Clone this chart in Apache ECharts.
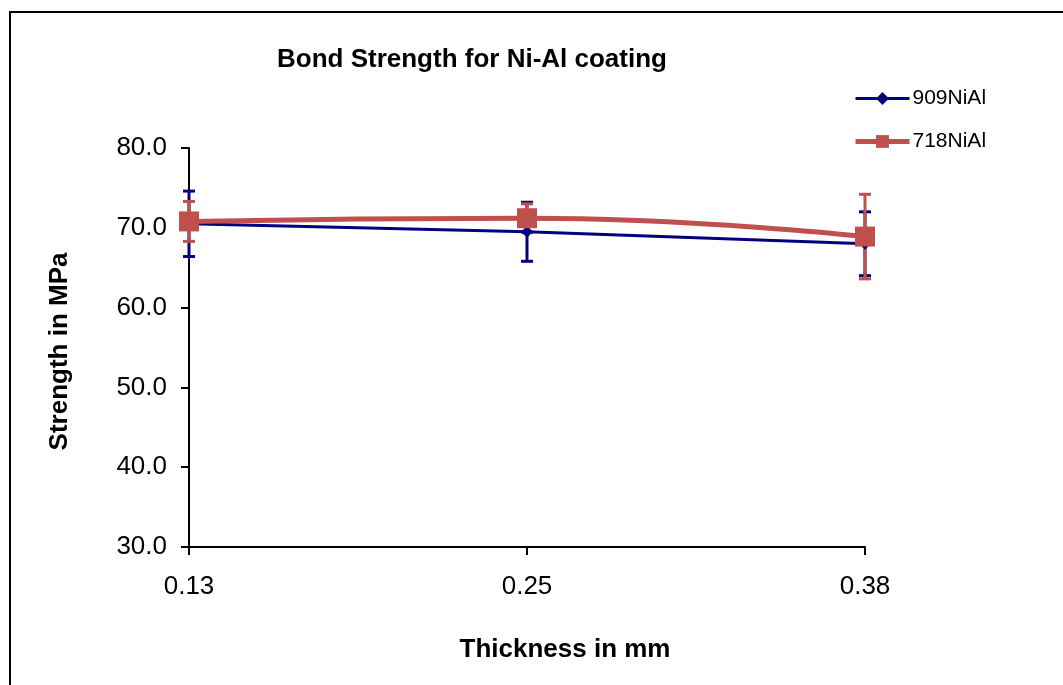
<!DOCTYPE html>
<html>
<head>
<meta charset="utf-8">
<script src="https://cdn.jsdelivr.net/npm/echarts@6/dist/echarts.min.js"></script>
<style>
  html, body { margin: 0; padding: 0; background: #fff; }
  #chart { width: 1063px; height: 685px; }
</style>
</head>
<body>
<div id="chart"></div>
<script>
// Coating thickness (mm) on the category axis
const thickness = ['0.13', '0.25', '0.38'];

// Mean bond strength (MPa) and standard deviation for each coating
const series909 = [70.5, 69.5, 68.0];
const err909 = [4.1, 3.7, 4.0];
const series718 = [70.8, 71.2, 68.9];
const err718 = [2.5, 1.8, 5.3];

const yTicks = { min: 30, max: 80, interval: 10 };

const FONT = 'Liberation Sans, Arial, sans-serif';
const NAVY = '#000080';
const BRICK = '#C0504D';

// Vertical whisker with flat caps at mean ± error
function errorBars(means, errs, color) {
  return {
    type: 'custom',
    name: 'err',
    silent: true,
    data: means.map((m, i) => [i, m - errs[i], m + errs[i]]),
    renderItem: function (params, api) {
      const x = api.value(0);
      const lo = api.coord([x, api.value(1)]);
      const hi = api.coord([x, api.value(2)]);
      const half = 6;
      const style = { stroke: color, lineWidth: 3 };
      return {
        type: 'group',
        children: [
          { type: 'line', shape: { x1: lo[0], y1: lo[1], x2: hi[0], y2: hi[1] }, style: style },
          { type: 'line', shape: { x1: hi[0] - half, y1: hi[1], x2: hi[0] + half, y2: hi[1] }, style: style },
          { type: 'line', shape: { x1: lo[0] - half, y1: lo[1], x2: lo[0] + half, y2: lo[1] }, style: style }
        ]
      };
    }
  };
}

const chart = echarts.init(document.getElementById('chart'));
chart.setOption({
  backgroundColor: '#fff',
  animation: false,
  graphic: [{
    type: 'rect',
    shape: { x: 10, y: 12, width: 1200, height: 800 },
    style: { fill: 'none', stroke: '#000', lineWidth: 2 },
    z: 0
  }],
  title: {
    text: 'Bond Strength for Ni-Al coating',
    left: 272,
    top: 42,
    textStyle: { fontFamily: FONT, fontSize: 26, fontWeight: 'bold', color: '#000' }
  },
  legend: {
    orient: 'vertical',
    left: 853,
    top: 88,
    padding: 0,
    itemWidth: 54,
    itemHeight: 16,
    itemGap: 22,
    data: [
      { name: '909NiAl', lineStyle: { width: 3 } },
      { name: '718NiAl', lineStyle: { width: 5 } }
    ],
    textStyle: { fontFamily: FONT, fontSize: 21, color: '#000', padding: [0, 0, 0, -2] }
  },
  grid: { left: 189, right: 198, top: 148, bottom: 138, containLabel: false },
  xAxis: {
    type: 'category',
    data: thickness,
    boundaryGap: false,
    name: 'Thickness in mm',
    nameLocation: 'middle',
    nameGap: 90,
    nameTextStyle: { fontFamily: FONT, fontSize: 26, fontWeight: 'bold', color: '#000', padding: [0, 0, 0, 76] },
    axisLine: { lineStyle: { color: '#000', width: 2 } },
    axisTick: { show: true, alignWithLabel: true, length: 8, lineStyle: { color: '#000', width: 2 } },
    axisLabel: { fontFamily: FONT, fontSize: 26, color: '#000', margin: 27 },
    splitLine: { show: false }
  },
  yAxis: {
    type: 'value',
    min: yTicks.min,
    max: yTicks.max,
    interval: yTicks.interval,
    name: 'Strength in MPa',
    nameLocation: 'middle',
    nameGap: 116,
    nameRotate: 90,
    nameTextStyle: { fontFamily: FONT, fontSize: 26, fontWeight: 'bold', color: '#000', padding: [0, 8, 0, 0] },
    axisLine: { show: true, lineStyle: { color: '#000', width: 2 } },
    axisTick: { show: true, length: 8, lineStyle: { color: '#000', width: 2 } },
    axisLabel: { fontFamily: FONT, fontSize: 26, color: '#000', margin: 22, formatter: v => v.toFixed(1) },
    splitLine: { show: false }
  },
  series: [
    errorBars(series909, err909, NAVY),
    {
      name: '909NiAl',
      type: 'line',
      data: series909,
      symbol: 'diamond',
      symbolSize: 12,
      lineStyle: { color: NAVY, width: 3 },
      itemStyle: { color: NAVY },
      z: 3
    },
    errorBars(series718, err718, BRICK),
    {
      name: '718NiAl',
      type: 'line',
      data: series718,
      smooth: 0.5,
      symbol: 'rect',
      symbolSize: 20,
      lineStyle: { color: BRICK, width: 5 },
      itemStyle: { color: BRICK },
      z: 4
    }
  ]
});
</script>
</body>
</html>
